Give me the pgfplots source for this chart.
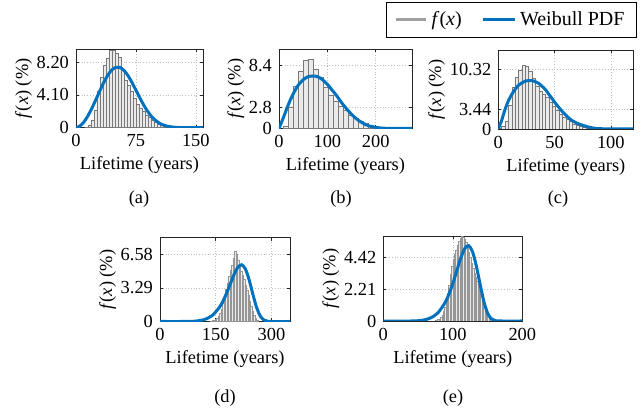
\documentclass[border=0pt]{standalone}
\usepackage{fontspec}
\setmainfont{Liberation Serif}
\usepackage{pgfplots}
\pgfplotsset{compat=1.18}

\definecolor{mblue}{RGB}{0,114,189}
\definecolor{hfill}{RGB}{234,234,234}
\definecolor{hedge}{RGB}{120,120,120}
\definecolor{hedgel}{RGB}{150,150,150}
\definecolor{lgray}{RGB}{160,160,160}

\pgfplotsset{
  sub/.style={
    scale only axis, anchor=south west,
    xmin=0, ymin=0,
    axis line style={draw=black!85, line width=0.4pt},
    tick align=inside, major tick length=1.5pt,
    tick style={black!85, line width=0.3pt},
    xmajorgrids, ymajorgrids,
    grid style={densely dotted, gray!50, line width=0.3pt},
    font=\fontsize{9.2}{11}\selectfont,
    ticklabel style={font=\fontsize{9.2}{11}\selectfont},
    /pgf/number format/assume math mode=true,
    xlabel={Lifetime (years)},
    ylabel={\textit{f}(\textit{x}) (\%)},
    xlabel style={yshift=2pt},
    ylabel style={yshift=-4.5pt},
  },
  hist/.style={ybar, bar shift=0pt, fill=hfill, draw=hedge, line width=0.2pt,
    legend image code/.code={\draw[lgray, line width=1.5pt] (0pt,0pt) -- (15pt,0pt);}},
  pdf/.style={mblue, line width=1.5pt, smooth, no markers,
    legend image code/.code={\draw[mblue, line width=1.5pt] (0pt,0pt) -- (16pt,0pt);}},
}

\begin{document}
\begin{tikzpicture}
\path[use as bounding box] (0,0) rectangle (322pt,206pt);

% (a)
\begin{axis}[sub, at={(38pt,142.15pt)}, width=63.5pt, height=39.35pt,
  xmax=159, ymax=9.85,
  xtick={0,75,150}, xticklabels={0,75,150},
  ytick={0,4.10,8.20}, yticklabels={0,4.10,8.20}]
\addplot[hist, bar width=3.75] coordinates {
 (13.1,0.1) (16.9,0.3) (20.6,0.9) (24.4,2.2) (28.1,4.6) (31.9,6.3) (35.6,7.8)
 (39.4,8.7) (43.1,9.7) (46.9,9.7) (50.6,9.3) (54.4,8.8) (58.1,7.2) (61.9,5.9)
 (65.6,5.3) (69.4,4.6) (73.1,3.7) (76.9,2.9) (80.6,2.4) (84.4,2.1) (88.1,1.6)
 (91.9,1.3) (95.6,1.0) (99.4,0.7) (103.1,0.5) (106.9,0.4) (110.6,0.3)
 (114.4,0.2) (118.1,0.1) (121.9,0.1) (125.6,0.05)};
\addplot[pdf] coordinates {
 (0,0) (5,0.21) (10,0.73) (15,1.50) (20,2.46) (25,3.54) (30,4.65) (35,5.71)
 (40,6.60) (45,7.24) (50,7.56) (55,7.54) (60,7.18) (65,6.53) (70,5.67)
 (75,4.70) (80,3.72) (85,2.79) (90,2.00) (95,1.36) (100,0.88) (105,0.54)
 (110,0.31) (115,0.17) (120,0.09) (125,0.04) (130,0.02) (140,0.004) (150,0) (159,0)};
\end{axis}

% (b)
\begin{axis}[sub, at={(139.5pt,141.75pt)}, width=66.5pt, height=39.75pt,
  xmax=275, ymax=10.6,
  xtick={0,100,200}, xticklabels={0,100,200},
  ytick={0,2.8,8.4}, yticklabels={0,2.8,8.4}]
\addplot[hist, bar width=10.3] coordinates {
 (14,0.3) (24.3,2.9) (34.6,5.6) (44.9,7.6) (55.2,9.1) (65.5,9.2) (75.8,7.9)
 (86.1,6.9) (96.4,5.5) (106.7,4.5) (117,3.7) (127.3,3.0) (137.6,2.4)
 (147.9,1.8) (158.2,1.4) (168.5,1.0) (178.8,0.7) (189.1,0.5) (199.4,0.3)
 (209.7,0.2) (220,0.1) (230.3,0.05)};
\addplot[pdf] coordinates {
 (0,0) (10,1.6) (20,3.3) (30,4.7) (40,5.8) (50,6.5) (60,6.9) (70,7.0) (80,6.9)
 (90,6.5) (100,5.9) (110,5.1) (120,4.3) (130,3.4) (140,2.6) (150,1.9)
 (160,1.3) (170,0.85) (180,0.5) (190,0.28) (200,0.15) (210,0.07) (220,0.03)
 (240,0.01) (275,0)};
\end{axis}

% (c)
\begin{axis}[sub, at={(249.15pt,141.5pt)}, width=67.5pt, height=39.5pt,
  xmax=120, ymax=13.7,
  xtick={0,50,100}, xticklabels={0,50,100},
  ytick={0,3.44,10.32}, yticklabels={0,3.44,10.32},
  legend style={at={(1.027,1.608)}, anchor=north east, draw=black,
    line width=0.4pt, font=\fontsize{10}{12}\selectfont,
    legend columns=2, inner xsep=4pt, inner ysep=2.5pt,
    /tikz/every even column/.append style={column sep=6pt}},
  legend cell align=left]
\addplot[hist, bar width=3] coordinates {
 (1.5,0.1) (4.5,0.4) (7.5,1.4) (10.5,4.2) (13.5,7.2) (16.5,8.9) (19.5,10.2)
 (22.5,11.0) (25.5,10.9) (28.5,10.0) (31.5,8.8) (34.5,7.5) (37.5,6.6)
 (40.5,6.0) (43.5,5.5) (46.5,4.6) (49.5,3.9) (52.5,3.2) (55.5,2.6) (58.5,2.1)
 (61.5,1.7) (64.5,1.3) (67.5,0.9) (70.5,0.6) (73.5,0.4) (76.5,0.25)
 (79.5,0.15) (82.5,0.1) (85.5,0.05)};
\addlegendentry{\textit{f}(\textit{x})\,}
\addplot[pdf] coordinates {
 (0,0) (3,1.5) (6,3.4) (9,4.9) (12,6.0) (15,6.9) (18,7.6) (21,8.0) (24,8.3)
 (27,8.4) (30,8.4) (33,8.2) (36,7.9) (39,7.4) (42,6.8) (45,6.0) (48,5.2)
 (51,4.4) (54,3.7) (57,3.0) (60,2.4) (63,1.85) (66,1.4) (69,1.1) (72,0.85)
 (75,0.65) (80,0.35) (85,0.15) (90,0.06) (100,0.01) (120,0)};
\addlegendentry{Weibull PDF}
\end{axis}

% (d)
\begin{axis}[sub, at={(80pt,45.25pt)}, width=65pt, height=41.9pt,
  xmax=350, ymax=8.2,
  xtick={0,150,300}, xticklabels={0,150,300},
  ytick={0,3.29,6.58}, yticklabels={0,3.29,6.58}]
\addplot[hist, bar width=4, draw=hedgel, line width=0.15pt] coordinates {
 (138,0.05) (142,0.1) (146,0.15) (150,0.22) (154,0.35) (158,0.55) (162,0.85)
 (166,1.2) (170,1.8) (174,2.5) (178,3.2) (182,3.8) (186,4.4) (190,5.0)
 (194,5.5) (198,6.2) (202,6.9) (206,6.6) (210,6.0) (214,5.4) (218,4.9)
 (222,4.5) (226,4.1) (230,3.6) (234,3.1) (238,2.6) (242,2.0) (246,1.5)
 (250,1.0) (254,0.6) (258,0.3) (262,0.1)};
\addplot[pdf] coordinates {
 (0,0) (60,0) (80,0.005) (100,0.055) (120,0.197) (140,0.57) (160,1.38)
 (170,2.03) (180,2.83) (190,3.74) (200,4.64) (210,5.32) (220,5.55) (230,5.13)
 (240,4.07) (250,2.67) (260,1.38) (270,0.53) (280,0.14) (290,0.02) (300,0)
 (350,0)};
\end{axis}

% (e)
\begin{axis}[sub, at={(191.65pt,45.5pt)}, width=69.5pt, height=42.5pt,
  xmax=200, ymax=5.9,
  xtick={0,100,200}, xticklabels={0,100,200},
  ytick={0,2.21,4.42}, yticklabels={0,2.21,4.42}]
\addplot[hist, bar width=2, draw=hedgel, line width=0.15pt] coordinates {
 (75,0.04) (77,0.07) (79,0.1) (81,0.15) (83,0.25) (85,0.4) (87,0.65) (89,0.95)
 (91,1.35) (93,1.9) (95,2.5) (97,3.25) (99,3.8) (101,4.3) (103,4.65) (105,4.95)
 (107,5.25) (109,5.55) (111,5.75) (113,5.9) (115,5.85) (117,5.7) (119,5.45)
 (121,5.15) (123,4.8) (125,4.4) (127,4.0) (129,3.65) (131,3.35) (133,3.05)
 (135,2.75) (137,2.45) (139,2.15) (141,1.85) (143,1.55) (145,1.25) (147,0.95)
 (149,0.7) (151,0.5) (153,0.3) (155,0.18) (157,0.1) (159,0.05)};
\addplot[pdf] coordinates {
 (0,0) (40,0) (55.8,0.05) (66.9,0.19) (78.1,0.54) (89.2,1.30) (94.8,1.91)
 (100.4,2.66) (105.9,3.52) (111.5,4.37) (117.1,5.02) (122.7,5.23) (128.2,4.83)
 (133.8,3.83) (139.4,2.52) (145.0,1.30) (150.5,0.50) (156.1,0.13) (161.7,0.02)
 (170,0) (200,0)};
\end{axis}

\node at (69.5pt,106.5pt) {\fontsize{9.2}{11}\selectfont (a)};
\node at (170.5pt,106.5pt) {\fontsize{9.2}{11}\selectfont (b)};
\node at (279pt,106.5pt) {\fontsize{9.2}{11}\selectfont (c)};
\node at (112.5pt,7pt) {\fontsize{9.2}{11}\selectfont (d)};
\node at (226.5pt,7pt) {\fontsize{9.2}{11}\selectfont (e)};
\end{tikzpicture}
\end{document}
